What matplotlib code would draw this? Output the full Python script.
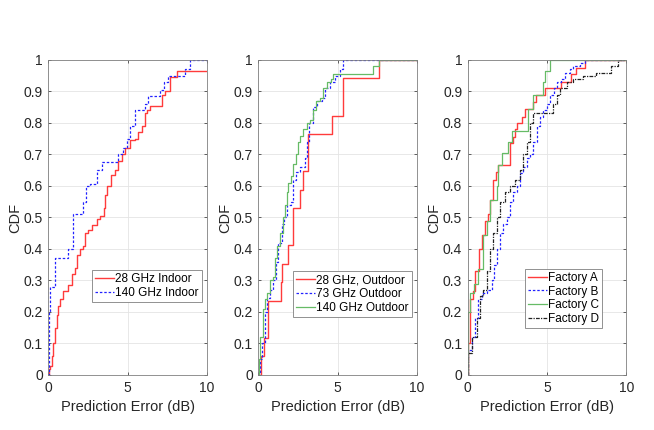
import matplotlib
matplotlib.use("Agg")
import matplotlib.pyplot as plt

plt.rcParams['font.family'] = ['Liberation Sans', 'DejaVu Sans']

# step points (x = prediction error in dB where CDF jumps, y = CDF level after jump)
in28_x = [0, 0.05, 0.1, 0.2, 0.32, 0.42, 0.53, 0.64, 0.74, 0.95, 1.26, 1.47, 1.68, 1.79, 2.0, 2.2, 2.32,
          2.53, 2.74, 3.05, 3.26, 3.52, 3.6, 3.68, 3.94, 4.21, 4.42, 4.63, 4.84, 5.16, 5.47, 5.68, 5.89,
          6.1, 6.25, 6.42, 7.16, 7.37, 7.68, 8.1, 10]
in28_y = [0, 0.02, 0.03, 0.06, 0.1, 0.15, 0.19, 0.22, 0.24, 0.265, 0.285, 0.32, 0.34, 0.38, 0.40, 0.41, 0.45,
          0.46, 0.475, 0.495, 0.505, 0.53, 0.57, 0.6, 0.635, 0.65, 0.68, 0.70, 0.72, 0.745, 0.75, 0.77, 0.79,
          0.83, 0.84, 0.855, 0.89, 0.9, 0.945, 0.965, 0.965]
in140_x = [0, 0.02, 0.05, 0.1, 0.42, 1.26, 1.54, 2.2, 2.4, 2.6, 3.05, 3.37, 4.42, 4.74, 4.95, 5.16, 5.47,
           6.1, 6.3, 6.53, 7.05, 7.3, 7.58, 8.63, 8.95, 10]
in140_y = [0, 0.12, 0.2, 0.28, 0.37, 0.40, 0.51, 0.55, 0.6, 0.605, 0.65, 0.675, 0.70, 0.72, 0.75, 0.79, 0.84,
           0.86, 0.885, 0.885, 0.905, 0.93, 0.95, 0.97, 1.0, 1.0]

out28 = [0.15, 0.38, 0.63, 0.63, 1.41, 1.47, 1.85, 2.17, 2.17, 2.63, 2.8, 3.16, 3.16, 4.63, 5.33, 5.33, 7.64]
out73_x = [0, 0.11, 0.21, 0.42, 0.53, 0.74, 0.91, 1.12, 1.26, 1.47, 1.62, 1.79, 2.04, 2.17, 2.38, 2.63, 2.95,
           3.09, 3.22, 3.47, 3.68, 4.0, 4.21, 4.53, 4.84, 5.16, 5.37, 10]
out73_y = [0, 0.05, 0.1, 0.2, 0.245, 0.27, 0.3, 0.36, 0.42, 0.48, 0.5, 0.54, 0.55, 0.62, 0.645, 0.66, 0.69,
           0.74, 0.8, 0.85, 0.87, 0.88, 0.91, 0.93, 0.95, 0.97, 1.0, 1.0]
out140_x = [0, 0.05, 0.11, 0.27, 0.42, 0.53, 0.74, 0.95, 1.05, 1.2, 1.37, 1.58, 1.68, 1.79, 1.89, 2.04, 2.17,
            2.38, 2.53, 2.63, 2.84, 3.05, 3.26, 3.43, 3.64, 3.89, 4.1, 4.36, 4.57, 4.74, 7.22, 7.64, 10]
out140_y = [0, 0.05, 0.12, 0.21, 0.24, 0.26, 0.3, 0.31, 0.37, 0.41, 0.45, 0.5, 0.54, 0.58, 0.61, 0.63, 0.67,
            0.7, 0.74, 0.76, 0.78, 0.8, 0.81, 0.84, 0.87, 0.88, 0.91, 0.93, 0.94, 0.955, 0.98, 1.0, 1.0]

facA_x = [0, 0.03, 0.15, 0.31, 0.46, 0.73, 0.88, 1.09, 1.3, 1.4, 1.57, 1.78, 1.89, 2.66, 2.83, 2.98, 3.12,
          3.4, 3.6, 4.13, 4.3, 4.86, 5.91, 6.54, 6.86, 7.38, 10]
facA_y = [0, 0.1, 0.24, 0.265, 0.33, 0.40, 0.445, 0.49, 0.51, 0.555, 0.62, 0.645, 0.665, 0.735, 0.755, 0.78, 0.8,
          0.82, 0.845, 0.865, 0.89, 0.91, 0.93, 0.955, 0.975, 1.0, 1.0]
facB_x = [0, 0.04, 0.25, 0.46, 0.67, 0.88, 1.19, 1.51, 1.68, 1.82, 2.03, 2.24, 2.45, 2.66, 2.87, 3.08, 3.29,
          3.5, 3.71, 3.92, 4.13, 4.34, 4.55, 4.76, 4.97, 5.18, 5.43, 5.6, 5.91, 6.12, 6.44, 6.65, 7.07, 7.38, 10]
facB_y = [0, 0.08, 0.12, 0.18, 0.24, 0.26, 0.27, 0.3, 0.35, 0.4, 0.45, 0.48, 0.5, 0.55, 0.58, 0.6, 0.64,
          0.66, 0.69, 0.7, 0.74, 0.79, 0.82, 0.84, 0.86, 0.89, 0.91, 0.93, 0.94, 0.96, 0.97, 0.98, 0.99, 1.0, 1.0]
facC_x = [0, 0.02, 0.15, 0.42, 0.63, 0.99, 1.24, 1.4, 1.82, 1.93, 2.14, 2.56, 2.77, 3.82, 4.09, 4.76, 4.86,
          5.22, 10]
facC_y = [0, 0.2, 0.26, 0.29, 0.335, 0.445, 0.49, 0.555, 0.6, 0.665, 0.705, 0.74, 0.775, 0.845, 0.89, 0.93, 0.965,
          1.0, 1.0]
facD_x = [0, 0.04, 0.25, 0.57, 0.78, 0.99, 1.19, 1.4, 1.61, 1.82, 2.03, 2.35, 2.66, 2.98, 3.29, 3.5, 3.71,
          3.92, 4.13, 5.39, 5.6, 5.81, 6.23, 6.65, 7.27, 8.11, 9.05, 9.48, 10]
facD_y = [0, 0.07, 0.12, 0.18, 0.25, 0.27, 0.33, 0.4, 0.45, 0.5, 0.55, 0.58, 0.6, 0.62, 0.65, 0.7, 0.74,
          0.8, 0.83, 0.86, 0.89, 0.91, 0.93, 0.94, 0.95, 0.96, 0.98, 1.0, 1.0]

xticks = [0, 5, 10]
yticks = [0, 0.1, 0.2, 0.3, 0.4, 0.5, 0.6, 0.7, 0.8, 0.9, 1]
ytick_labels = ['0', '0.1', '0.2', '0.3', '0.4', '0.5', '0.6', '0.7', '0.8', '0.9', '1']

RED = '#ff3b3b'
BLUE = '#2222ff'
GREEN = '#66bb66'
BLACK = '#222222'

fig = plt.figure(figsize=(6.54, 4.30), dpi=100)
lefts = [0.0739, 0.395, 0.7152]
axs = [fig.add_axes([l, 0.128, 0.2424, 0.7326]) for l in lefts]


def style(ax):
    ax.set_xlim(0, 10)
    ax.set_ylim(0, 1)
    ax.set_xticks(xticks)
    ax.set_yticks(yticks)
    ax.set_yticklabels(ytick_labels)
    ax.grid(True, color='#e4e4e4', linewidth=0.6)
    ax.set_axisbelow(True)
    ax.tick_params(direction='in', length=2.5, width=0.5, top=True, right=True,
                   labelsize=10, colors='#262626', pad=4)
    for s in ax.spines.values():
        s.set_color('#808080')
        s.set_linewidth(0.6)
    ax.set_xlabel('Prediction Error (dB)', fontsize=10.5, color='#262626', labelpad=4)
    ax.set_ylabel('CDF', fontsize=10.5, color='#262626', labelpad=1)


def leg(ax, anchor):
    lg = ax.legend(loc='lower right', bbox_to_anchor=anchor, fontsize=8.5, fancybox=False,
                   framealpha=1, edgecolor='#808080', handlelength=1.6, handletextpad=0.1,
                   borderpad=0.25, labelspacing=0.15, borderaxespad=0)
    lg.get_frame().set_linewidth(0.6)


ax = axs[0]
ax.plot(in28_x, in28_y, drawstyle='steps-post', color=RED, lw=1.0, label='28 GHz Indoor')
ax.plot(in140_x, in140_y, drawstyle='steps-post', color=BLUE, lw=0.9, ls=(0, (2, 1.5)), label='140 GHz Indoor')
style(ax)
leg(ax, (0.968, 0.232))

ax = axs[1]
o28 = sorted(out28)
o28_x = [0] + o28 + [10]
o28_y = [0] + [(i + 1) / len(o28) for i in range(len(o28))] + [1.0]
ax.plot(o28_x, o28_y, drawstyle='steps-post', color=RED, lw=1.0, label='28 GHz, Outdoor')
ax.plot(out73_x, out73_y, drawstyle='steps-post', color=BLUE, lw=0.9, ls=(0, (2, 1.5)), label='73 GHz Outdoor')
ax.plot(out140_x, out140_y, drawstyle='steps-post', color=GREEN, lw=0.9, label='140 GHz Outdoor')
style(ax)
leg(ax, (0.968, 0.185))

ax = axs[2]
ax.plot(facA_x, facA_y, drawstyle='steps-post', color=RED, lw=1.0, label='Factory A')
ax.plot(facB_x, facB_y, drawstyle='steps-post', color=BLUE, lw=0.9, ls=(0, (2, 1.5)), label='Factory B')
ax.plot(facC_x, facC_y, drawstyle='steps-post', color=GREEN, lw=0.9, label='Factory C')
ax.plot(facD_x, facD_y, drawstyle='steps-post', color=BLACK, lw=0.9, ls=(0, (3, 1, 1, 1)), label='Factory D')
style(ax)
leg(ax, (0.847, 0.149))

fig.savefig('out.png', dpi=100)
